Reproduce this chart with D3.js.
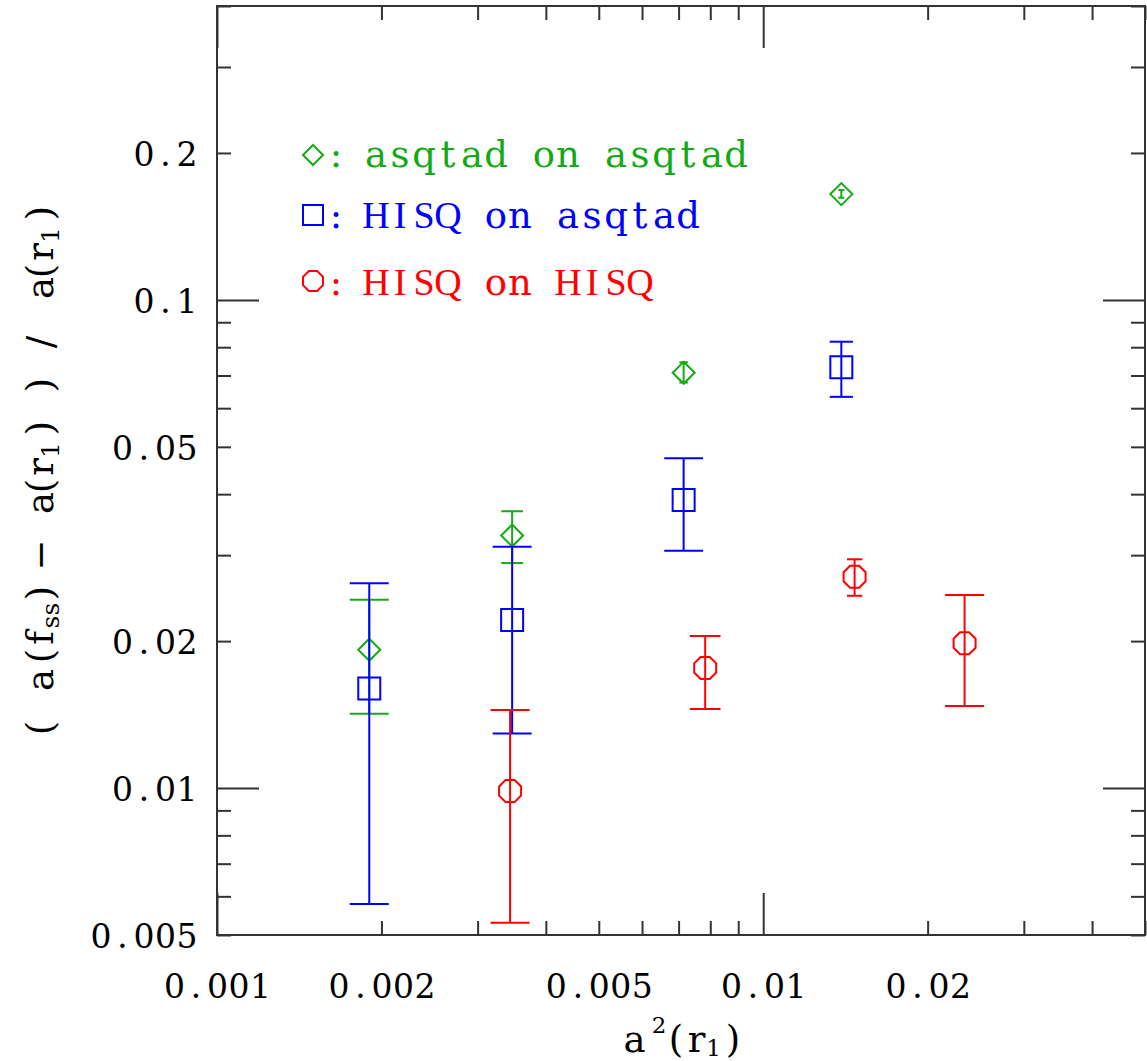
<!DOCTYPE html>
<html>
<head>
<meta charset="utf-8">
<script src="https://cdn.jsdelivr.net/npm/d3@7"></script>
<style>
  html, body { margin: 0; padding: 0; background: #fff; }
  svg { display: block; }
  text { font-family: "DejaVu Serif", "Liberation Serif", serif; white-space: pre; }
</style>
</head>
<body>
<svg id="chart" width="1147" height="1061"></svg>
<script>
// ---------- data ----------
const seriesNames = ["asqtad on asqtad", "HISQ on asqtad", "HISQ on HISQ"];
const seriesColors = ["#14aa14", "#0000ff", "#ff0000"];
const seriesShapes = ["diamond", "square", "octagon"];

// asqtad on asqtad
const asqX  = [0.00190, 0.00347, 0.00715, 0.0139];
const asqY  = [0.0192, 0.0329, 0.0709, 0.1647];
const asqLo = [0.0142, 0.0289, 0.0677, 0.1619];
const asqHi = [0.0243, 0.0369, 0.0745, 0.1679];

// HISQ on asqtad
const hOnAX  = [0.00190, 0.00347, 0.00715, 0.0139];
const hOnAY  = [0.0160, 0.0221, 0.0389, 0.0728];
const hOnALo = [0.00579, 0.01294, 0.03064, 0.0633];
const hOnAHi = [0.02627, 0.03122, 0.04736, 0.0821];

// HISQ on HISQ
const hOnHX  = [0.00344, 0.00783, 0.0147, 0.02337];
const hOnHY  = [0.00986, 0.01762, 0.02709, 0.0198];
const hOnHLo = [0.0053, 0.01452, 0.02477, 0.01472];
const hOnHHi = [0.01445, 0.02049, 0.02942, 0.02486];

const xTickLabels = [0.001, 0.002, 0.005, 0.01, 0.02];
const yTickLabels = [0.005, 0.01, 0.02, 0.05, 0.1, 0.2];
const xDomain = [0.001, 0.05];
const yDomain = [0.005, 0.4];
// axis titles: characters and kind (n = normal, b = subscript, p = superscript)
const xTitleChars = ["a", "2", "(", "r", "1", ")"];
const xTitleKinds = ["n", "p", "n", "n", "b", "n"];
const yTitleChars = ["(", "a", "(", "f", "s", "s", ")", "\u2212", "a", "(", "r", "1", ")", ")", "/", "a", "(", "r", "1", ")"];
const yTitleKinds = ["n", "n", "n", "n", "b", "b", "n", "n", "n", "n", "n", "b", "n", "n", "n", "n", "n", "n", "b", "n"];

// ---------- layout ----------
const L = 217, R = 1145, T = 6, B = 935;
const svg = d3.select("#chart");
const x = d3.scaleLog().domain(xDomain).range([L, R]);
const y = d3.scaleLog().domain(yDomain).range([B, T]);
const axisColor = "#333";
const FS_TICK = 34, FS_LEG = 37, FS_LEG_CAP = 38, FS_TITLE = 37, FS_SUB = 23;

function isMajor(v) { return Math.abs(Math.log10(v) - Math.round(Math.log10(v))) < 1e-9; }
const xMajor = x.ticks().filter(isMajor), xMinor = x.ticks().filter(v => !isMajor(v));
const yMajor = y.ticks().filter(isMajor), yMinor = y.ticks().filter(v => !isMajor(v));

function tickAxis(axisGen, scale, vals, size, tr) {
  const g = svg.append("g").attr("transform", tr).attr("color", axisColor)
    .call(axisGen(scale).tickValues(vals).tickSizeInner(-size).tickSizeOuter(0).tickFormat(""));
  g.select(".domain").remove();
  g.selectAll(".tick line").attr("stroke-width", 2);
}
[[xMinor, 14], [xMajor, 42]].forEach(([v, s]) => {
  tickAxis(d3.axisBottom, x, v, s, `translate(0,${B})`);
  tickAxis(d3.axisTop, x, v, s, `translate(0,${T})`);
});
[[yMinor, 14], [yMajor, 42]].forEach(([v, s]) => {
  tickAxis(d3.axisLeft, y, v, s, `translate(${L},0)`);
  tickAxis(d3.axisRight, y, v, s, `translate(${R},0)`);
});

svg.append("rect").attr("x", L).attr("y", T).attr("width", R - L).attr("height", B - T)
  .attr("fill", "none").attr("stroke", axisColor).attr("stroke-width", 2);

// monospace-like text: each glyph centred in its own cell
function cellText(textSel, chars, xs, ys, sizes, families, maxW) {
  textSel.text(null).attr("text-anchor", "middle").attr("dy", null).attr("x", null).attr("y", null);
  chars.forEach((c, i) => {
    const ts = textSel.append("tspan").attr("x", xs[i]).attr("y", ys[i])
      .style("font-size", sizes[i] + "px").text(c);
    if (families && families[i]) ts.style("font-family", families[i]);
    if (maxW) {
      const w = ts.node().getComputedTextLength();
      if (w > maxW) ts.attr("textLength", maxW).attr("lengthAdjust", "spacingAndGlyphs");
    }
  });
}

const fmt = d3.format("~g");
const TP = 21.5; // tick label pitch
// x tick labels
const gxl = svg.append("g").attr("transform", `translate(0,${B})`)
  .call(d3.axisBottom(x).tickValues(xTickLabels).tickSize(0).tickFormat(fmt));
gxl.select(".domain").remove();
gxl.selectAll("text").attr("fill", "#000").attr("font-family", null).attr("font-size", null)
  .each(function () {
    const s = d3.select(this); const ch = s.text().split(""); const n = ch.length;
    cellText(s, ch, ch.map((_, i) => (i - (n - 1) / 2) * TP), ch.map(() => 63), ch.map(() => FS_TICK), null, TP - 0.5);
  });

// y tick labels
const gyl = svg.append("g").attr("transform", `translate(${L},0)`)
  .call(d3.axisLeft(y).tickValues(yTickLabels).tickSize(0).tickFormat(fmt));
gyl.select(".domain").remove();
gyl.selectAll("text").attr("fill", "#000").attr("font-family", null).attr("font-size", null)
  .each(function () {
    const s = d3.select(this); const ch = s.text().split(""); const n = ch.length;
    cellText(s, ch, ch.map((_, i) => -30 - (n - 1 - i) * TP), ch.map(() => 12.5), ch.map(() => FS_TICK), null, TP - 0.5);
  });

// x axis title
const xtOff = [-46, -21.5, -4.5, 16, 33, 52.5];
const xt = svg.append("text").attr("fill", "#000");
cellText(xt, xTitleChars,
  xtOff.map(o => 680.5 + o),
  xTitleKinds.map(k => 1052 + (k === "p" ? -19 : k === "b" ? 4 : 0)),
  xTitleKinds.map(k => k === "n" ? FS_TITLE : FS_SUB));

// y axis title (rotated)
const ytOff = [-256.5, -208.5, -184.5, -166.5, -150.5, -137.5, -121.5, -83.5,
               -31.5, -14.5, 4.5, 21.5, 43.5, 86.5, 129.5, 183.5, 200.5, 219.5, 236.5, 258.5];
const yt = svg.append("text").attr("fill", "#000").attr("transform", "translate(53,471.5) rotate(-90)");
cellText(yt, yTitleChars, ytOff,
  yTitleKinds.map(k => k === "b" ? 6 : 0),
  yTitleKinds.map(k => k === "n" ? FS_TITLE : FS_SUB + 2));

// ---------- markers ----------
function shapePath(shape, cx, cy, r) {
  if (shape === "diamond") {
    return `M${cx},${cy - r}L${cx + r},${cy}L${cx},${cy + r}L${cx - r},${cy}Z`;
  } else if (shape === "square") {
    return `M${cx - r},${cy - r}H${cx + r}V${cy + r}H${cx - r}Z`;
  } else {
    const R0 = r / Math.cos(Math.PI / 8);
    const pts = d3.range(8).map(k => {
      const a = Math.PI / 8 + k * Math.PI / 4;
      return [cx + R0 * Math.cos(a), cy + R0 * Math.sin(a)];
    });
    return "M" + pts.map(p => p.join(",")).join("L") + "Z";
  }
}

const allSeries = [
  [asqX, asqY, asqLo, asqHi],
  [hOnAX, hOnAY, hOnALo, hOnAHi],
  [hOnHX, hOnHY, hOnHLo, hOnHHi]
];

allSeries.forEach(([xs, ys, los, his], si) => {
  const col = seriesColors[si];
  const g = svg.append("g").attr("stroke", col).attr("fill", "none").attr("stroke-width", 2);
  const pts = xs.map((v, i) => ({ x: v, y: ys[i], lo: los[i], hi: his[i] }));
  pts.forEach(p => {
    const cx = x(p.x), yl = y(p.lo), yh = y(p.hi);
    const len = yl - yh;
    const hw = Math.max(3, Math.min(19.5, 0.21 * len));
    g.append("line").attr("x1", cx).attr("x2", cx).attr("y1", yl).attr("y2", yh);
    g.append("line").attr("x1", cx - hw).attr("x2", cx + hw).attr("y1", yh).attr("y2", yh);
    g.append("line").attr("x1", cx - hw).attr("x2", cx + hw).attr("y1", yl).attr("y2", yl);
    g.append("path").attr("d", shapePath(seriesShapes[si], cx, y(p.y), 11));
  });
});

// ---------- legend ----------
const legendMarkY = [155, 215, 281];
const legendBase = [167, 228, 295];
const LP = 24; // legend pitch
seriesNames.forEach((name, i) => {
  const col = seriesColors[i];
  svg.append("path").attr("d", shapePath(seriesShapes[i], 313, legendMarkY[i], 10))
    .attr("fill", "none").attr("stroke", col).attr("stroke-width", 2);
  svg.append("text").attr("x", 336).attr("y", legendBase[i]).attr("text-anchor", "middle")
    .style("font-size", FS_LEG + "px").attr("fill", col).text(":");
  const ch = name.split("");
  const isCap = ch.map(c => /[A-Z]/.test(c));
  const t = svg.append("text").attr("fill", col);
  cellText(t, ch, ch.map((_, k) => 376 + k * LP), ch.map(() => legendBase[i]),
    isCap.map(u => u ? FS_LEG_CAP : FS_LEG),
    isCap.map(u => u ? "Liberation Serif" : null));
});
</script>
</body>
</html>
